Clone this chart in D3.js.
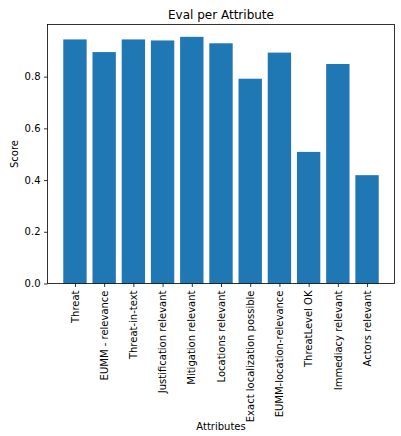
<!DOCTYPE html>
<html>
<head>
<meta charset="utf-8">
<script src="https://cdn.jsdelivr.net/npm/d3@7"></script>
<style>
  body { margin: 0; background: #fff; }
  text { font-family: "DejaVu Sans", sans-serif; fill: #000; }
</style>
</head>
<body>
<div id="chart"></div>
<script>
const attributes = ['Threat', 'EUMM - relevance', 'Threat-in-text', 'Justification relevant',
  'Mitigation relevant', 'Locations relevant', 'Exact localization possible',
  'EUMM-location-relevance', 'ThreatLevel OK', 'Immediacy relevant', 'Actors relevant'];
const scores = [0.944, 0.895, 0.944, 0.940, 0.954, 0.929, 0.792, 0.893, 0.509, 0.849, 0.419];
const yTicks = [0.0, 0.2, 0.4, 0.6, 0.8];

const draw = () => {
  const W = 401, H = 436;
  const margin = {top: 24.5, right: 6.5, bottom: 152.5, left: 47.5};
  const width = W - margin.left - margin.right;
  const height = H - margin.top - margin.bottom;
  const svg = d3.select('#chart')
    .append('svg')
    .attr('width', W)
    .attr('height', H);
  const g = svg.append('g')
    .attr('transform', `translate(${margin.left}, ${margin.top})`);

  // matplotlib-like margins: bars span i-0.4..i+0.4, 5% padding
  const n = attributes.length;
  const lo = -0.4, hi = n - 1 + 0.4, pad = (hi - lo) * 0.05;
  const x = d3.scaleLinear().domain([lo - pad, hi + pad]).range([0, width]);
  const yMax = d3.max(scores) * 1.05;
  const y = d3.scaleLinear().domain([0, yMax]).range([height, 0]);

  g.selectAll('rect.bar')
    .data(scores)
    .join('rect')
    .attr('class', 'bar')
    .attr('x', (d, i) => x(i - 0.4))
    .attr('width', (d, i) => x(i + 0.4) - x(i - 0.4))
    .attr('y', d => y(d))
    .attr('height', d => y(0) - y(d))
    .attr('fill', '#1f77b4');

  const yAxis = g.append('g')
    .call(d3.axisLeft(y).tickValues(yTicks).tickFormat(d3.format('.1f')).tickSize(3.5).tickPadding(3.5))
    .call(gg => gg.select('.domain').remove());
  yAxis.selectAll('line').attr('stroke', '#000').attr('stroke-width', 0.8);
  yAxis.selectAll('text').attr('font-size', 10).attr('font-family', '"DejaVu Sans", sans-serif');

  const xAxis = g.append('g')
    .attr('transform', `translate(0, ${height})`)
    .call(d3.axisBottom(x).tickValues(d3.range(n)).tickFormat(i => attributes[i]).tickSize(3.5).tickPadding(3.5))
    .call(gg => gg.select('.domain').remove());
  xAxis.selectAll('line').attr('stroke', '#000').attr('stroke-width', 0.8);
  xAxis.selectAll('text')
    .attr('font-size', 10)
    .attr('font-family', '"DejaVu Sans", sans-serif')
    .attr('text-anchor', 'end')
    .attr('dy', '0.32em')
    .attr('transform', 'translate(0, 7) rotate(-90)')
    .attr('x', 0)
    .attr('y', 0);

  // spines
  g.append('rect')
    .attr('width', width)
    .attr('height', height)
    .attr('fill', 'none')
    .attr('stroke', '#000')
    .attr('stroke-width', 0.8);

  svg.append('text')
    .attr('x', margin.left + width / 2)
    .attr('y', 19)
    .attr('text-anchor', 'middle')
    .attr('font-size', 12)
    .text('Eval per Attribute');

  svg.append('text')
    .attr('transform', `translate(18, ${margin.top + height / 2}) rotate(-90)`)
    .attr('text-anchor', 'middle')
    .attr('font-size', 10)
    .text('Score');

  svg.append('text')
    .attr('x', margin.left + width / 2)
    .attr('y', 430)
    .attr('text-anchor', 'middle')
    .attr('font-size', 10)
    .text('Attributes');
}

draw();
</script>
</body>
</html>
